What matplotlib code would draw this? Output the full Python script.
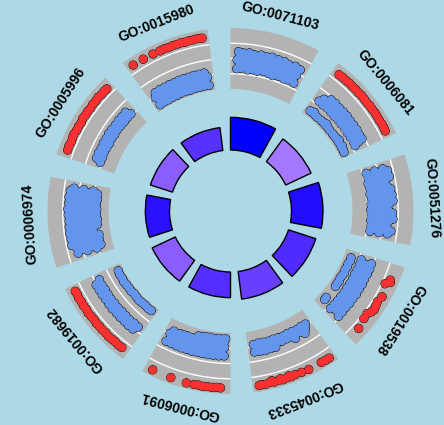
import numpy as np
import matplotlib
matplotlib.use("Agg")
import matplotlib.pyplot as plt

# ---------------------------------------------------------------- data
go_ids = ["GO:0071103", "GO:0006081", "GO:0051276", "GO:0019538", "GO:0045333",
          "GO:0006091", "GO:0019682", "GO:0006974", "GO:0005996", "GO:0015980"]
zscore = [-6.00, -3.48, -5.88, -5.40, -4.98, -5.34, -4.20, -5.82, -4.20, -5.28]
adj_pval = [7.24e-6, 1.445e-5, 8.63e-6, 1.318e-5, 1.50e-5,
            2.09e-5, 2.09e-5, 2.61e-5, 3.02e-5, 3.10e-5]

# genes of every term: position inside the segment and logFC
pos_0071103 = [.07, .12, .19, .25, .30, .37, .43, .48, .55, .61, .66, .73,
               .10, .16, .22, .27, .34, .40, .45, .52, .58, .63, .70,
               .07, .13, .18, .25, .31, .36, .43, .49, .54, .61, .67, .72,
               .10, .15, .22, .28, .33, .40, .46, .51, .58, .64, .69,
               .08, .13, .19, .24, .31, .37, .42, .49, .55, .60, .67, .73]
lfc_0071103 = [-2.33, -2.30, -2.34, -2.31, -2.33, -2.30, -2.32, -2.35, -2.31, -2.33, -2.30, -2.32,
               -2.18, -2.20, -2.17, -2.19, -2.16, -2.18, -2.21, -2.17, -2.19, -2.18, -2.16,
               -2.04, -2.06, -2.03, -2.05, -2.02, -2.04, -2.06, -2.03, -2.05, -2.04, -2.02, -2.05,
               -1.90, -1.92, -1.89, -1.91, -1.90, -1.88, -1.91, -1.89, -1.92, -1.90, -1.91,
               -1.77, -1.80, -1.78, -1.82, -1.79, -1.81, -1.78, -1.80, -1.79, -1.83, -1.80, -1.84]

pos_0006081 = [.07, .11, .15, .19, .23, .27, .31, .35, .39, .43, .47, .51, .55, .59, .63, .67, .71, .74,
               .08, .14, .20, .26, .32, .38, .44, .50, .56, .62, .68, .73,
               .11, .17, .23, .29, .35, .41, .47, .53, .59, .65, .71,
               .17, .23, .29, .35, .41, .47, .53, .59, .65, .70,
               .07, .11, .15, .19, .25, .29, .33, .37, .41, .47, .51, .55, .59, .63, .67, .71, .74,
               .12, .33, .58, .66]
lfc_0006081 = [2.85, 2.88, 2.86, 2.90, 2.87, 2.89, 2.86, 2.91, 2.88, 2.85, 2.90, 2.87, 2.92, 2.88, 2.86, 2.91, 2.89, 2.84,
               -1.50, -1.55, -1.49, -1.53, -1.56, -1.51, -1.54, -1.50, -1.55, -1.52, -1.49, -1.53,
               -0.90, -0.86, -0.89, -0.85, -0.91, -0.87, -0.88, -0.84, -0.90, -0.86, -0.89,
               -0.34, -0.30, -0.36, -0.31, -0.29, -0.35, -0.32, -0.30, -0.37, -0.33,
               -3.22, -3.18, -3.21, -3.25, -3.19, -3.16, -3.20, -3.17, -3.23, -3.21, -3.18, -3.15, -3.19, -3.16, -3.22, -3.18, -3.24,
               -3.02, -3.00, -2.98, -3.03]

pos_0051276 = [.07, .13, .19, .25, .31, .37, .43, .49, .55, .61, .67, .73,
               .10, .16, .22, .28, .34, .40, .46, .52, .58, .64, .70,
               .07, .13, .19, .25, .31, .37, .43, .49, .55, .61, .67, .73,
               .10, .16, .22, .28, .34, .40, .46, .52, .58, .64, .70,
               .07, .13, .19, .25, .31, .37, .43, .49, .55, .61, .67, .73,
               .10, .16, .28, .34, .40, .52, .58, .70]
lfc_0051276 = [-2.38, -2.36, -2.40, -2.37, -2.39, -2.35, -2.38, -2.40, -2.36, -2.39, -2.37, -2.38,
               -2.24, -2.22, -2.25, -2.23, -2.26, -2.22, -2.24, -2.21, -2.25, -2.23, -2.24,
               -2.10, -2.08, -2.11, -2.09, -2.12, -2.10, -2.07, -2.11, -2.09, -2.10, -2.12, -2.08,
               -1.96, -1.94, -1.97, -1.95, -1.98, -1.96, -1.93, -1.97, -1.95, -1.96, -1.94,
               -1.82, -1.80, -1.83, -1.81, -1.84, -1.82, -1.79, -1.83, -1.81, -1.82, -1.84, -1.80,
               -1.69, -1.67, -1.70, -1.68, -1.66, -1.69, -1.67, -1.70]

pos_0019538 = [.15, .17, .20, .32, .38, .42, .46, .49, .525, .58, .68,
               .07, .13, .19, .25, .31, .37, .43, .49, .55, .61, .67, .73,
               .10, .16, .22, .28, .34, .40, .46, .52, .58, .64, .70,
               .07, .13, .19, .25, .31, .37, .43, .49, .55, .61, .67, .73,
               .09, .13, .17, .21, .25, .29, .33, .37, .41, .45, .49,
               .67, .70]
lfc_0019538 = [2.85, 2.96, 2.40, 2.85, 2.64, 2.76, 2.86, 2.72, 2.40, 2.48, 2.80,
               -1.70, -1.66, -1.69, -1.72, -1.67, -1.68, -1.71, -1.65, -1.69, -1.67, -1.70, -1.68,
               -0.96, -0.94, -0.98, -0.95, -0.97, -0.93, -0.96, -0.99, -0.95, -0.97, -0.94,
               -0.26, -0.22, -0.25, -0.28, -0.23, -0.26, -0.21, -0.27, -0.24, -0.29, -0.25, -0.22,
               -3.05, -2.98, -3.10, -3.02, -3.12, -3.00, -3.08, -3.15, -3.04, -3.10, -3.06,
               -3.10, -3.04]

pos_0045333 = [.07, .13, .19, .25, .31, .37, .43, .49, .55, .61, .67, .73,
               .10, .16, .22, .28, .34, .40, .46, .52, .58, .64, .70,
               .13, .25, .49, .55, .61, .67, .73,
               .06, .10, .14, .27, .34, .40, .44, .48, .52, .56, .60, .64, .68, .72, .74, .46, .54, .62]
lfc_0045333 = [-1.66, -1.70, -1.64, -1.69, -1.72, -1.65, -1.68, -1.71, -1.66, -1.69, -1.73, -1.67,
               -1.26, -1.24, -1.28, -1.25, -1.27, -1.23, -1.26, -1.29, -1.25, -1.27, -1.24,
               -0.92, -0.94, -0.88, -0.91, -0.86, -0.90, -0.93,
               2.42, 2.40, 2.36, 2.38, 2.34, 2.30, 2.36, 2.32, 2.38, 2.33, 2.37, 2.31, 2.39, 2.35, 2.40, 2.20, 2.22, 2.18]

pos_0006091 = [.06, .10, .15, .20, .25, .30, .35, .40,
               .08, .13, .18, .23, .28, .33, .38, .43, .48, .53, .58, .62, .70,
               .07, .13, .19, .25, .31, .37, .43, .49, .55, .61, .67, .73,
               .10, .16, .22, .28, .34, .40, .46, .52, .58, .64, .70,
               .07, .13, .19, .25, .31, .37, .43, .49, .55, .61, .67, .73,
               .09, .13, .17, .21, .25, .29, .33, .40, .547, .725]
lfc_0006091 = [-3.20, -3.16, -3.22, -3.14, -3.24, -3.18, -3.12, -3.08,
               -2.64, -2.60, -2.66, -2.62, -2.68, -2.61, -2.65, -2.59, -2.63, -2.67, -2.62, -2.60, -2.58,
               -2.08, -2.05, -2.10, -2.06, -2.09, -2.04, -2.07, -2.11, -2.06, -2.08, -2.05, -2.09,
               -1.52, -1.50, -1.54, -1.51, -1.53, -1.49, -1.52, -1.55, -1.50, -1.53, -1.51,
               -0.98, -0.95, -0.97, -0.94, -0.96, -0.99, -0.95, -0.97, -0.93, -0.96, -0.98, -0.95,
               3.24, 3.20, 3.26, 3.22, 3.27, 3.21, 3.25, 3.28, 3.20, 3.20]

pos_0019682 = [.07, .11, .15, .19, .23, .27, .31, .35, .39, .43, .47, .51, .55, .59, .63, .67, .71, .74,
               .07, .13, .19, .25, .31, .37, .43, .49, .55, .61, .67, .73,
               .10, .16, .22, .28, .34, .40, .46, .52, .58, .64, .70,
               .07, .12, .17, .22, .27, .32, .37, .42, .47, .52, .57, .62, .67, .72]
lfc_0019682 = [2.02, 2.06, 2.00, 2.04, 2.08, 2.01, 2.05, 2.03, 2.07, 2.00, 2.04, 2.09, 2.02, 2.06, 2.03, 2.08, 2.01, 2.05,
               -0.99, -1.02, -0.97, -1.00, -1.03, -0.98, -1.01, -0.96, -1.00, -1.02, -0.97, -1.01,
               -0.43, -0.41, -0.45, -0.42, -0.44, -0.40, -0.43, -0.46, -0.42, -0.44, -0.41,
               -3.40, -3.36, -3.42, -3.38, -3.33, -3.39, -3.44, -3.35, -3.40, -3.37, -3.31, -3.38, -3.34, -3.41]

pos_0006974 = [.10, .16, .22, .34, .40, .46, .52, .58, .64, .70,
               .07, .13, .19, .25, .31, .37, .43, .49, .55, .61, .67, .73,
               .10, .16, .22, .28, .34, .40, .46, .52, .58, .64, .70,
               .07, .13, .19, .25, .31, .37, .43, .49, .55, .61, .67, .73,
               .10, .16, .22, .28, .34, .40, .46, .52, .58, .64, .70,
               .07, .13, .19, .25, .31, .37, .43, .49, .55, .61, .67, .73,
               .16, .22, .28, .34, .40, .46, .52, .58, .64, .70]
lfc_0006974 = [-3.42, -3.40, -3.43, -3.41, -3.44, -3.40, -3.42, -3.39, -3.43, -3.41,
               -3.19, -3.17, -3.21, -3.18, -3.20, -3.16, -3.19, -3.22, -3.18, -3.20, -3.17, -3.19,
               -2.95, -2.93, -2.97, -2.94, -2.96, -2.92, -2.95, -2.98, -2.94, -2.96, -2.93,
               -2.71, -2.69, -2.73, -2.70, -2.72, -2.68, -2.71, -2.74, -2.70, -2.72, -2.69, -2.71,
               -2.47, -2.45, -2.49, -2.46, -2.48, -2.44, -2.47, -2.50, -2.46, -2.48, -2.45,
               -2.23, -2.21, -2.25, -2.22, -2.24, -2.20, -2.23, -2.26, -2.22, -2.24, -2.21, -2.23,
               -2.02, -2.04, -2.01, -2.03, -2.05, -2.02, -2.00, -2.04, -2.03, -2.06]

pos_0005996 = [.07, .11, .15, .19, .23, .27, .31, .35, .39, .43, .47, .51, .55, .59, .63, .67, .71, .74,
               .07, .13, .19, .25, .31, .37, .43, .49, .55, .61, .67, .73,
               .10, .16, .22, .28, .34, .40, .46, .52, .58, .64, .70]
lfc_0005996 = [2.25, 2.28, 2.23, 2.27, 2.30, 2.24, 2.26, 2.22, 2.29, 2.25, 2.27, 2.23, 2.28, 2.26, 2.31, 2.24, 2.27, 2.25,
               -0.60, -0.63, -0.58, -0.61, -0.64, -0.59, -0.62, -0.57, -0.61, -0.63, -0.59, -0.60,
               -0.20, -0.18, -0.22, -0.19, -0.21, -0.17, -0.20, -0.23, -0.19, -0.21, -0.18]

pos_0015980 = [.064, .17, .27, .34, .38, .42, .46, .50, .54, .58, .62, .66, .70, .74,
               .07, .13, .19, .25, .31, .37, .43, .49, .55, .61, .67, .73,
               .10, .16, .22, .28, .34, .40, .46, .52, .58, .64, .70,
               .07, .13, .19, .25, .31, .37, .43, .49, .55, .61, .67, .73,
               .10, .16, .22, .28, .34, .40, .46, .52, .58, .64, .70]
lfc_0015980 = [3.00, 2.96, 2.96, 2.94, 2.98, 2.92, 2.97, 2.95, 2.99, 2.93, 2.98, 2.96, 3.02, 2.97,
               -3.28, -3.25, -3.30, -3.26, -3.29, -3.24, -3.27, -3.31, -3.26, -3.28, -3.25, -3.29,
               -2.72, -2.70, -2.74, -2.71, -2.73, -2.69, -2.72, -2.75, -2.71, -2.73, -2.70,
               -2.16, -2.14, -2.18, -2.15, -2.17, -2.13, -2.16, -2.19, -2.15, -2.17, -2.14, -2.16,
               -1.60, -1.58, -1.62, -1.59, -1.61, -1.57, -1.60, -1.63, -1.59, -1.61, -1.58]

gene_pos = [pos_0071103, pos_0006081, pos_0051276, pos_0019538, pos_0045333,
            pos_0006091, pos_0019682, pos_0006974, pos_0005996, pos_0015980]
gene_lfc = [lfc_0071103, lfc_0006081, lfc_0051276, lfc_0019538, lfc_0045333,
            lfc_0006091, lfc_0019682, lfc_0006974, lfc_0005996, lfc_0015980]

# ---------------------------------------------------------------- style
BG = "#ADD8E6"
TRACK = "#B3B3B3"
UP, DOWN = "#FF3030", "#6495ED"
ZLOW, ZMID, ZHIGH = "#0000FF", "#FFFFFF", "#FF0000"
RAD1, RAD2 = 2.0, 3.0


def hex_rgb(h):
    h = h.lstrip("#")
    return np.array([int(h[i:i + 2], 16) / 255 for i in (0, 2, 4)])


_M = np.array([[0.4124564, 0.3575761, 0.1804375],
               [0.2126729, 0.7151522, 0.0721750],
               [0.0193339, 0.1191920, 0.9503041]])
_WHITE = _M @ np.ones(3)


def rgb_to_lab(rgb):
    lin = np.where(rgb <= 0.04045, rgb / 12.92, ((rgb + 0.055) / 1.055) ** 2.4)
    t = (_M @ lin) / _WHITE
    d = 6 / 29
    f = np.where(t > d ** 3, np.cbrt(t), t / (3 * d * d) + 4 / 29)
    return np.array([116 * f[1] - 16, 500 * (f[0] - f[1]), 200 * (f[1] - f[2])])


def lab_to_rgb(lab):
    fy = (lab[0] + 16) / 116
    f = np.array([fy + lab[1] / 500, fy, fy - lab[2] / 200])
    d = 6 / 29
    t = np.where(f > d, f ** 3, 3 * d * d * (f - 4 / 29))
    lin = np.linalg.solve(_M, t * _WHITE)
    lin = np.clip(lin, 0, 1)
    return np.where(lin <= 0.0031308, 12.92 * lin, 1.055 * lin ** (1 / 2.4) - 0.055)


def zscore_colour(z, zs):
    # diverging blue-white-red scale centred on zero, interpolated in Lab
    t = z / (2 * np.max(np.abs(zs))) + 0.5
    if t <= 0.5:
        a, b, f = ZLOW, ZMID, t / 0.5
    else:
        a, b, f = ZMID, ZHIGH, (t - 0.5) / 0.5
    la, lb = rgb_to_lab(hex_rgb(a)), rgb_to_lab(hex_rgb(b))
    return tuple(np.clip(lab_to_rgb(la + (lb - la) * f), 0, 1))


# ---------------------------------------------------------------- layout
n = len(go_ids)
step = 10 / n
seg_w = step - 0.2
starts = np.arange(n) * step


def theta(x):
    return np.asarray(x) * 2 * np.pi / 10


neglog = -np.log10(adj_pval)
p_lo, p_hi = np.round([neglog.min(), neglog.max()]) + np.array([-2, 2])
bar_h = (neglog - p_lo) / (p_hi - p_lo)

fig = plt.figure(figsize=(4.44, 4.25), dpi=100, facecolor=BG)
W, H = 444, 425
cx, cy, R = 230.5, 214.0, 219.6
ax = fig.add_axes([(cx - R) / W, (cy - R) / H, 2 * R / W, 2 * R / H], projection="polar")
ax.set_theta_zero_location("N")
ax.set_theta_direction(-1)
ax.set_ylim(1, RAD2 + 1.6)
ax.set_axis_off()
ax.patch.set_alpha(0)

# inner ring: bar height from adjusted p-value, fill from z-score
ax.bar(theta(starts), bar_h, width=theta(seg_w), bottom=RAD1, align="edge",
       color=[zscore_colour(z, zscore) for z in zscore], edgecolor="black",
       linewidth=1.0, zorder=2)

# grey logFC tracks with white guide lines
ax.bar(theta(starts), 1.0, width=theta(seg_w), bottom=RAD2, align="edge",
       color=TRACK, linewidth=0, zorder=2)
for s in starts:
    th = np.linspace(theta(s), theta(s + seg_w), 80)
    for lvl in (0.25, 0.5, 0.75):
        ax.plot(th, np.full_like(th, RAD2 + lvl), color="white", lw=1.0,
                solid_capstyle="butt", zorder=3)

# term labels
for s, gid in zip(starts, go_ids):
    mid = s + seg_w / 2
    ax.text(theta(mid), RAD2 + 1.3, gid, rotation=360 - mid * 36,
            rotation_mode="anchor", ha="center", va="center",
            fontsize=10, fontweight="bold", family="Liberation Sans", zorder=4)

# genes: logFC scaled inside each track
all_th, all_r, all_c = [], [], []
for s, pos, lfc in zip(starts, gene_pos, gene_lfc):
    lfc = np.asarray(lfc)
    lo, hi = np.round([lfc.min(), lfc.max()]) + np.array([-1, 1])
    y = (lfc - lo) / (hi - lo)
    all_th.append(theta(s + np.asarray(pos)))
    all_r.append(RAD2 + y)
    all_c += [UP if v > 0 else DOWN for v in lfc]
all_th = np.concatenate(all_th)
all_r = np.concatenate(all_r)

ax.scatter(all_th, all_r, s=37, facecolors="none", edgecolors="black",
           linewidths=0.55, zorder=5)
ax.scatter(all_th, all_r, s=34, c=all_c, linewidths=0, zorder=6)

fig.savefig("out.png", dpi=100, facecolor=BG)
